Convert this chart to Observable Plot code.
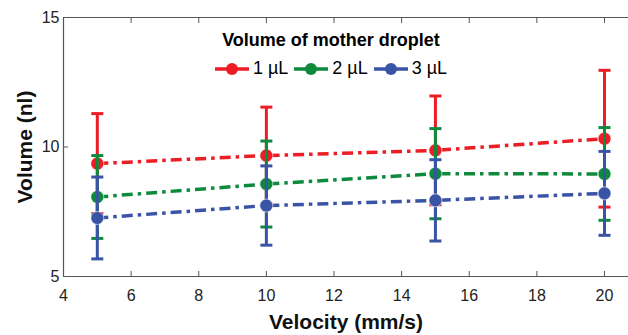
<!DOCTYPE html>
<html><head><meta charset="utf-8">
<script src="https://cdn.jsdelivr.net/npm/d3@7"></script>
<script src="https://cdn.jsdelivr.net/npm/@observablehq/plot@0.6"></script>
<style>
body{margin:0;background:#fff;font-family:"Liberation Sans",Arial,sans-serif}
#wrap{position:relative;width:628px;height:335px;overflow:hidden}
#legend{position:absolute;left:200px;top:29px;width:262px;text-align:center;color:#000}
#legend .t{font-weight:bold;font-size:18px;line-height:22px;white-space:nowrap}
#legend .items{margin-top:7px;display:flex;justify-content:center;align-items:center;gap:6px;font-size:18px;white-space:nowrap}
#legend .it{display:flex;align-items:center;gap:4px}
</style></head>
<body><div id="wrap"><div id="chart"></div><div id="legend"></div></div>
<script>
const velocities = [5, 10, 15, 20];
const seriesNames = ["1 µL", "2 µL", "3 µL"];
const colors = ["#ec1d25", "#0e8a3d", "#3953a5"];
const vol1 = [9.36, 9.67, 9.87, 10.32];
const err1 = [1.93, 1.87, 2.10, 2.64];
const vol2 = [8.07, 8.57, 8.97, 8.96];
const err2 = [1.60, 1.66, 1.74, 1.79];
const vol3 = [7.26, 7.74, 7.94, 8.21];
const err3 = [1.58, 1.53, 1.57, 1.62];
const xTicks = [4, 6, 8, 10, 12, 14, 16, 18, 20];
const yTicks = [5, 10, 15];

const vols = [vol1, vol2, vol3], errs = [err1, err2, err3];
const data = [];
seriesNames.forEach((s, i) => velocities.forEach((v, j) => data.push({s, i, v, y: vols[i][j], lo: vols[i][j] - errs[i][j], hi: vols[i][j] + errs[i][j]})));

const cap = {draw(ctx, size) { const w = 6; ctx.moveTo(-w, 0); ctx.lineTo(w, 0); }};

const marks = [
  Plot.ruleY([5, 15], {stroke: "#555", strokeWidth: 1.2}),
  Plot.ruleX([4], {stroke: "#555", strokeWidth: 1.2}),
  Plot.axisX({anchor: "bottom", ticks: xTicks, tickSize: -5, tickPadding: 18, stroke: "#555", fontSize: 16, label: null}),
  Plot.axisX({anchor: "top", ticks: xTicks, tickSize: -5, text: null, stroke: "#555", label: null}),
  Plot.axisY({anchor: "left", ticks: yTicks, tickSize: -5, tickPadding: 9, stroke: "#555", fontSize: 16, label: null}),
];
seriesNames.forEach((s, i) => {
  const d = data.filter(e => e.i === i);
  marks.push(
    Plot.ruleX(d, {x: "v", y1: "lo", y2: "hi", stroke: colors[i], strokeWidth: 3}),
    Plot.dot(d, {x: "v", y: "lo", symbol: cap, r: 6, stroke: colors[i], strokeWidth: 3}),
    Plot.dot(d, {x: "v", y: "hi", symbol: cap, r: 6, stroke: colors[i], strokeWidth: 3}),
    Plot.line(d, {x: "v", y: "y", stroke: colors[i], strokeWidth: 3.5, strokeDasharray: "11,5,3.5,5", strokeLinecap: "butt"}),
    Plot.dot(d, {x: "v", y: "y", r: 6.5, fill: colors[i], stroke: "#fff", strokeWidth: 0.6})
  );
});
marks.push(
  Plot.text(["Velocity (mm/s)"], {frameAnchor: "bottom", dy: 46, lineAnchor: "middle", textAnchor: "middle", fontSize: 21, fontWeight: "bold", fill: "#111"}),
  Plot.text(["Volume (nl)"], {frameAnchor: "left", dx: -38, rotate: -90, lineAnchor: "middle", textAnchor: "middle", fontSize: 21, fontWeight: "bold", fill: "#111"})
);

const chart = Plot.plot({
  width: 628, height: 335,
  marginLeft: 63, marginTop: 17, marginBottom: 59, marginRight: 0,
  style: {fontFamily: "Liberation Sans, Arial, sans-serif", color: "#222", background: "#fff", overflow: "visible"},
  x: {domain: [4, 20.71]},
  y: {domain: [5, 15]},
  marks
});
document.getElementById("chart").append(chart);

const lg = document.getElementById("legend");
let html = '<div class="t">Volume of mother droplet</div><div class="items">';
seriesNames.forEach((s, i) => {
  html += `<span class="it"><svg width="34" height="14"><line x1="0" y1="7" x2="34" y2="7" stroke="${colors[i]}" stroke-width="3.5"/><circle cx="17" cy="7" r="6" fill="${colors[i]}"/></svg><span>${s}</span></span>`;
});
html += '</div>';
lg.innerHTML = html;
</script>
</body></html>
